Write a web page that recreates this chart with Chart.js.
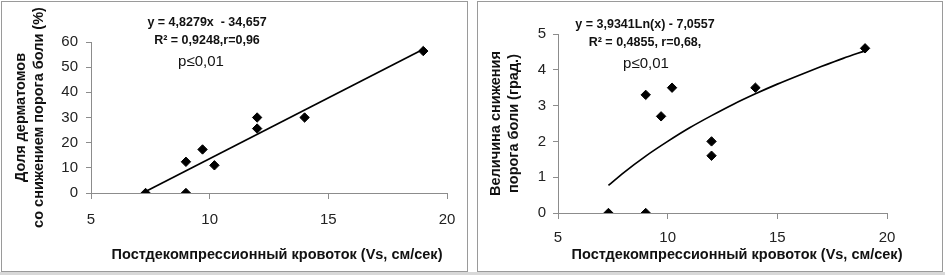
<!DOCTYPE html>
<html><head><meta charset="utf-8">
<script src="https://cdn.jsdelivr.net/npm/chart.js@4"></script>
<style>
html,body{margin:0;padding:0;background:#fff;}
body{width:945px;height:275px;position:relative;overflow:hidden;}
.panel{position:absolute;border:1px solid #9a9a9a;box-sizing:border-box;}
#p1{left:1px;top:1px;width:467px;height:271px;}
#p2{left:477px;top:1px;width:466px;height:271px;}
.band{position:absolute;left:0;top:272px;width:945px;height:3px;background:#d8d8d8;}
.wrap{position:absolute;top:0;width:470px;height:272px;}
#w1{left:0;}
#w2{left:475px;}
</style>
</head><body>
<div class="panel" id="p1"></div>
<div class="panel" id="p2"></div>
<div class="band"></div>
<div class="wrap" id="w1"><canvas id="c1" width="470" height="272"></canvas></div>
<div class="wrap" id="w2"><canvas id="c2" width="470" height="272"></canvas></div>
<script>
// ---- data ----
const xTickValues = [5, 10, 15, 20];
const yTicksLeft = [0, 10, 20, 30, 40, 50, 60];
const yTicksRight = [0, 1, 2, 3, 4, 5];

const velocityLeft = [7.3, 9, 9, 9.7, 10.2, 12, 12, 14, 19];
const dermatomeShare = [0, 0, 12.4, 17.3, 11, 30, 25.6, 30, 56.4];
const trendLeftX = [7.3, 19];
const trendLeftY = [0.6, 57.1];

const velocityRight = [7.3, 9, 9, 9.7, 10.2, 12, 12, 14, 19];
const thresholdDrop = [0, 0, 3.3, 2.7, 3.5, 2.0, 1.6, 3.5, 4.6];
const trendRightX = [7.3, 8, 9, 10, 11, 12, 13, 14, 15, 16, 17, 18, 19];
const trendRightY = [0.77, 1.13, 1.59, 2.0, 2.38, 2.72, 3.04, 3.33, 3.6, 3.85, 4.09, 4.32, 4.53];

const xTitle = 'Постдекомпрессионный кровоток (Vs, см/сек)';
const yTitleLeft = ['Доля дерматомов', 'со снижением порога боли (%)'];
const yTitleRight = ['Величина снижения', 'порога боли (град.)'];
const eqLeft = ['y = 4,8279x  - 34,657', 'R² = 0,9248,r=0,96', 'p≤0,01'];
const eqRight = ['y = 3,9341Ln(x) - 7,0557', 'R² = 0,4855, r=0,68,', 'p≤0,01'];

// ---- rendering ----
const FONT = '"Liberation Sans", Arial, Helvetica, sans-serif';
const AXIS = '#8c8c8c';
const INK = '#111';

const notesPlugin = {
  id: 'notes',
  afterDraw(chart, args, opts) {
    const ctx = chart.ctx;
    (opts.items || []).forEach(it => {
      ctx.save();
      ctx.font = it.font;
      ctx.fillStyle = INK;
      ctx.textAlign = 'center';
      ctx.textBaseline = 'middle';
      ctx.fillText(it.text, it.x, it.y);
      ctx.restore();
    });
  }
};

const zip = (xs, ys) => xs.map((x, i) => ({x: x, y: ys[i]}));

function makeChart(id, cfg) {
  return new Chart(document.getElementById(id), {
    type: 'scatter',
    data: {
      datasets: [
        {
          data: zip(cfg.trendX, cfg.trendY),
          showLine: true,
          borderColor: '#000',
          borderWidth: 1.7,
          pointRadius: 0,
          fill: false,
          tension: cfg.tension,
          cubicInterpolationMode: cfg.tension ? 'monotone' : 'default'
        },
        {
          data: zip(cfg.px, cfg.py),
          showLine: false,
          pointStyle: 'rectRot',
          pointRadius: 4.7,
          backgroundColor: '#000',
          borderColor: '#000',
          borderWidth: 1
        }
      ]
    },
    options: {
      responsive: false,
      animation: false,
      events: [],
      layout: {padding: cfg.padding},
      plugins: {
        legend: {display: false},
        tooltip: {enabled: false},
        notes: {items: cfg.notes}
      },
      scales: {
        x: {
          type: 'linear',
          min: xTickValues[0],
          max: xTickValues[xTickValues.length - 1],
          afterBuildTicks: s => { s.ticks = xTickValues.map(v => ({value: v})); },
          grid: {drawOnChartArea: false, drawTicks: true, tickLength: 6, color: AXIS, lineWidth: 1},
          border: {display: true, color: AXIS, width: 1},
          ticks: {font: {family: FONT, size: 15}, color: '#222', padding: cfg.xTickPad, maxRotation: 0, autoSkip: false},
          afterFit: s => { s.height = cfg.xHeight; }
        },
        y: {
          type: 'linear',
          min: cfg.yTicks[0],
          max: cfg.yTicks[cfg.yTicks.length - 1],
          afterBuildTicks: s => { s.ticks = cfg.yTicks.map(v => ({value: v})); },
          grid: {drawOnChartArea: false, drawTicks: true, tickLength: 5, color: AXIS, lineWidth: 1},
          border: {display: true, color: AXIS, width: 1},
          ticks: {font: {family: FONT, size: 15}, color: '#222', padding: cfg.yTickPad, autoSkip: false},
          title: {
            display: true,
            text: cfg.yTitle,
            color: INK,
            font: {family: FONT, size: 14.5, weight: 'bold', lineHeight: 1.25},
            padding: {top: 12, bottom: 0}
          },
          afterFit: s => { s.width = cfg.yWidth; }
        }
      }
    },
    plugins: [notesPlugin]
  });
}

const bold12 = 'bold 12.5px ' + FONT;
const norm15 = '15px ' + FONT;
const bold14 = 'bold 14.5px ' + FONT;

makeChart('c1', {
  px: velocityLeft, py: dermatomeShare,
  trendX: trendLeftX, trendY: trendLeftY, tension: 0,
  yTicks: yTicksLeft, yTitle: yTitleLeft,
  padding: {top: 42, right: 23, bottom: 0, left: 0},
  yWidth: 91, xHeight: 79, xTickPad: 12, yTickPad: 8,
  notes: [
    {text: eqLeft[0], x: 207, y: 23, font: bold12},
    {text: eqLeft[1], x: 207, y: 41, font: bold12},
    {text: eqLeft[2], x: 201, y: 62, font: norm15},
    {text: xTitle, x: 277, y: 255, font: bold14}
  ]
});

makeChart('c2', {
  px: velocityRight, py: thresholdDrop,
  trendX: trendRightX, trendY: trendRightY, tension: 0.4,
  yTicks: yTicksRight, yTitle: yTitleRight,
  padding: {top: 34, right: 58, bottom: 0, left: 0},
  yWidth: 83, xHeight: 59, xTickPad: 10, yTickPad: 7,
  notes: [
    {text: eqRight[0], x: 170, y: 25, font: bold12},
    {text: eqRight[1], x: 170, y: 43, font: bold12},
    {text: eqRight[2], x: 171, y: 64, font: norm15},
    {text: xTitle, x: 262, y: 255, font: bold14}
  ]
});
</script>
</body></html>
